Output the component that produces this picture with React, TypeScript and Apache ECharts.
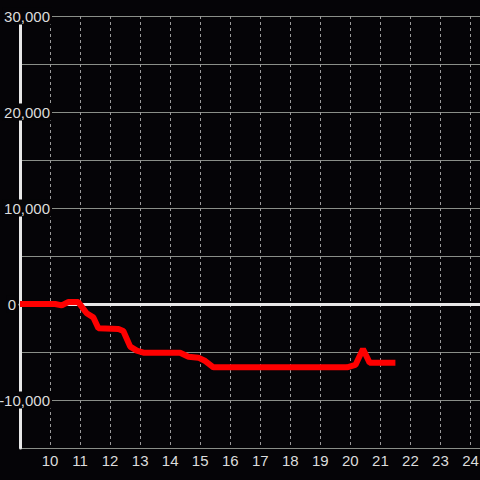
import React, { useEffect, useRef } from "react";
import * as echarts from "echarts";

const hours = [9, 10.17, 10.39, 10.6, 10.94, 11.22, 11.44, 11.61, 12.28, 12.44, 12.67, 12.89, 13.11, 14.33, 14.61, 14.94, 15.17, 15.44, 19.89, 20.17, 20.42, 20.64, 21.5];
const values = [0, 0, -150, 200, 200, -970, -1390, -2530, -2600, -2810, -4440, -4860, -5070, -5070, -5490, -5590, -5940, -6600, -6600, -6350, -4690, -6110, -6110];
const yLabelValues = [30000, 20000, 10000, 0, -10000];

const fmt = (v: number) => v.toLocaleString("en-US");
const FONT = "Liberation Sans";
const BG = "#050407";
const X_MIN = 9;
const X_MAX = 24.35;

export default function App() {
  const ref = useRef<HTMLDivElement>(null);
  useEffect(() => {
    if (!ref.current) return;
    const chart = echarts.init(ref.current, null, { renderer: "svg" });
    const data = hours.map((h, i) => [h, values[i]]);
    chart.setOption({
      animation: false,
      backgroundColor: BG,
      grid: { left: 20, right: -1, top: 16, bottom: 32, containLabel: false, outerBoundsMode: "none" },
      xAxis: [
        {
          type: "value",
          min: X_MIN,
          max: X_MAX,
          interval: 1,
          axisLine: { show: false, onZero: false },
          axisTick: { show: false },
          axisLabel: {
            color: "#dcdcdc",
            fontSize: 15,
            fontFamily: FONT,
            margin: 5,
            formatter: (v: number) => (Number.isInteger(v) && v >= 10 ? String(v) : ""),
          },
          splitLine: { show: true, lineStyle: { color: "#9a9a9a", type: [3, 3], width: 1 } },
        },
        {
          type: "value",
          min: X_MIN,
          max: X_MAX,
          interval: 1,
          position: "bottom",
          axisLine: { show: true, onZero: true, lineStyle: { color: "#e8e8e8", width: 3 } },
          axisTick: { show: false },
          axisLabel: { show: false },
          splitLine: { show: false },
        },
      ],
      yAxis: {
        type: "value",
        min: -15000,
        max: 30000,
        interval: 5000,
        axisLine: { show: true, lineStyle: { color: "#e8e8e8", width: 3 } },
        axisTick: { show: false },
        splitLine: { show: true, lineStyle: { color: "#8a8e88", width: 1 } },
        axisLabel: {
          align: "right",
          margin: -32,
          color: "#dcdcdc",
          fontSize: 15,
          fontFamily: FONT,
          formatter: (v: number) => {
            if (!yLabelValues.includes(v)) return "";
            if (v === 0) return "{z|0}{s| }";
            return "{a|" + fmt(v) + "}";
          },
          rich: {
            a: {
              color: "#dcdcdc",
              fontSize: 15,
              fontFamily: FONT,
              backgroundColor: BG,
              padding: [1, 2, 1, 2],
              lineHeight: 15,
            },
            z: {
              color: "#dcdcdc",
              fontSize: 15,
              fontFamily: FONT,
              backgroundColor: BG,
              padding: [1, 1, 1, 1],
              lineHeight: 15,
            },
            s: { width: 35, fontSize: 15, fontFamily: FONT, lineHeight: 15 },
          },
        },
      },
      series: [
        {
          type: "line",
          xAxisIndex: 0,
          data,
          showSymbol: false,
          symbol: "none",
          lineStyle: { color: "#ff0000", width: 6 },
          itemStyle: { color: "#ff0000" },
        },
      ],
    });
    return () => chart.dispose();
  }, []);
  return <div ref={ref} style={{ position: "fixed", left: 0, top: 0, width: 480, height: 480 }} />;
}
